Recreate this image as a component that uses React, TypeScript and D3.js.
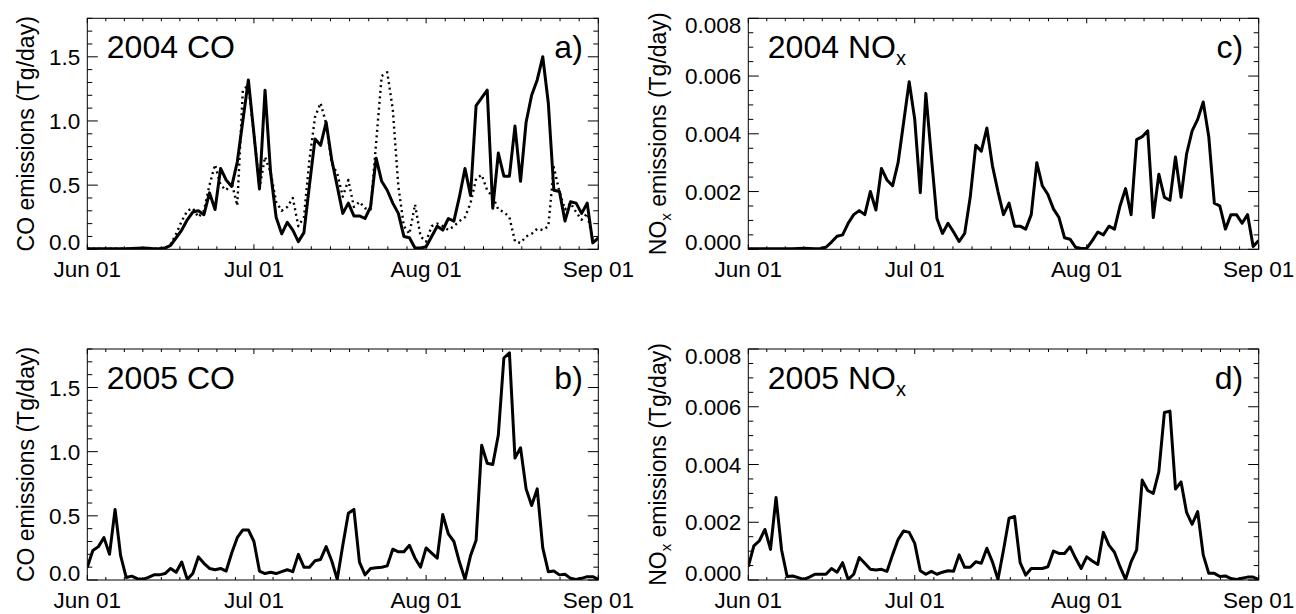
import * as d3 from "d3";
import React from "react";

const FONT = "'Liberation Sans', Arial, Helvetica, sans-serif";

// daily values, Jun 01 .. Sep 01 (93 days)
const co2004 = [
  0.005, 0.005, 0.005, 0.005, 0.005, 0.005, 0.004, 0.004, 0.006, 0.008,
  0.01, 0.008, 0.005, 0.006, 0.01, 0.03, 0.09, 0.15, 0.23, 0.29,
  0.3, 0.27, 0.44, 0.31, 0.63, 0.54, 0.49, 0.68, 1.0, 1.32,
  0.9, 0.47, 1.24, 0.6, 0.25, 0.12, 0.21, 0.15, 0.06, 0.13,
  0.5, 0.86, 0.81, 0.99, 0.7, 0.49, 0.28, 0.36, 0.26, 0.26,
  0.24, 0.33, 0.71, 0.53, 0.46, 0.36, 0.28, 0.1, 0.09, 0.01,
  0.01, 0.02, 0.1, 0.18, 0.15, 0.24, 0.22, 0.41, 0.63, 0.42,
  1.12, 1.18, 1.24, 0.32, 0.75, 0.57, 0.57, 0.96, 0.53, 0.99,
  1.2, 1.32, 1.5, 1.14, 0.46, 0.45, 0.22, 0.37, 0.36, 0.28,
  0.36, 0.05, 0.09,
];

const co2004Dotted = [
  0.005, 0.005, 0.005, 0.005, 0.005, 0.005, 0.005, 0.005, 0.005, 0.005,
  0.005, 0.005, 0.005, 0.006, 0.01, 0.04, 0.12, 0.22, 0.3, 0.32,
  0.25, 0.3, 0.5, 0.66, 0.5, 0.46, 0.52, 0.34, 1.24, 1.28,
  0.9, 0.48, 0.72, 0.6, 0.37, 0.3, 0.33, 0.4, 0.18, 0.25,
  0.7, 1.03, 1.14, 0.98, 0.67, 0.59, 0.41, 0.54, 0.33, 0.37,
  0.32, 0.31, 0.83, 1.35, 1.38, 1.09, 0.49, 0.18, 0.12, 0.35,
  0.1, 0.06, 0.18, 0.2, 0.18, 0.15, 0.18, 0.22, 0.25, 0.36,
  0.55, 0.58, 0.46, 0.41, 0.31, 0.29, 0.25, 0.06, 0.05, 0.1,
  0.12, 0.16, 0.15, 0.18, 0.64, 0.45, 0.31, 0.36, 0.29, 0.23,
  0.28, 0.07, 0.07,
];

const nox2004 = [
  0.00002, 0.00002, 0.00002, 0.00002, 0.00002, 0.00002, 0.00002, 0.00002, 0.00002, 0.00003,
  0.00004, 0.00003, 0.00002, 0.00003, 0.00007, 0.00025, 0.00045, 0.0005, 0.0009, 0.0012,
  0.00134, 0.0012, 0.002, 0.00136, 0.0028, 0.0024, 0.0022, 0.003, 0.0044, 0.0058,
  0.0045, 0.00196, 0.0054, 0.0032, 0.00107, 0.00055, 0.0009, 0.0006, 0.00027, 0.00055,
  0.0018, 0.0036, 0.0034, 0.0042, 0.0029, 0.002, 0.0012, 0.0016, 0.0008, 0.0008,
  0.0007, 0.0012, 0.003, 0.0022, 0.0019, 0.0014, 0.0011, 0.0004, 0.00035, 0.00007,
  0.00003, 0.00003, 0.0003, 0.0006, 0.0005, 0.0008, 0.0007, 0.0015, 0.0021, 0.0012,
  0.0038, 0.0039, 0.0041, 0.0011, 0.0026, 0.0018, 0.0017, 0.0032, 0.0018, 0.0033,
  0.0041, 0.0045, 0.0051, 0.0039, 0.0016, 0.0015, 0.0007, 0.0012, 0.0012, 0.0009,
  0.0012, 0.0001, 0.0003,
];

const co2005 = [
  0.1, 0.23, 0.26, 0.33, 0.2, 0.55, 0.19, 0.02, 0.03, 0.01,
  0.005, 0.02, 0.04, 0.04, 0.05, 0.09, 0.06, 0.14, 0.005, 0.05,
  0.18, 0.13, 0.09, 0.08, 0.09, 0.07, 0.21, 0.33, 0.39, 0.39,
  0.3, 0.07, 0.05, 0.06, 0.05, 0.065, 0.08, 0.065, 0.2, 0.1,
  0.1, 0.15, 0.16, 0.26, 0.15, 0.005, 0.27, 0.52, 0.55, 0.14,
  0.04, 0.09, 0.095, 0.1, 0.11, 0.24, 0.22, 0.22, 0.27, 0.17,
  0.1, 0.25, 0.21, 0.17, 0.51, 0.36, 0.3, 0.14, 0.005, 0.19,
  0.31, 1.05, 0.91, 0.9, 1.13, 1.73, 1.77, 0.95, 1.03, 0.71,
  0.58, 0.71, 0.25, 0.065, 0.07, 0.04, 0.045, 0.013, 0.005, 0.013,
  0.026, 0.026, 0.005,
];

const nox2005 = [
  0.00046, 0.00118, 0.00136, 0.00175, 0.00106, 0.00286, 0.00104, 0.00012, 0.00014, 0.00008,
  0.00002, 0.0001, 0.0002, 0.0002, 0.0002, 0.0004, 0.00027, 0.0006, 0.00002, 0.0002,
  0.00078, 0.00058, 0.00037, 0.00035, 0.00037, 0.0003, 0.00087, 0.0014, 0.0017, 0.00165,
  0.00127, 0.00032, 0.0002, 0.0003, 0.0002, 0.00027, 0.00032, 0.0003, 0.00087, 0.00044,
  0.00044, 0.00063, 0.00058, 0.0011, 0.00063, 0.00002, 0.00104, 0.00214, 0.0022, 0.0006,
  0.00017, 0.0004, 0.0004, 0.0004, 0.00046, 0.001, 0.00092, 0.00092, 0.00115, 0.00075,
  0.0004, 0.0008, 0.00066, 0.00054, 0.00165, 0.00121, 0.00096, 0.00046, 0.00002, 0.00063,
  0.00104, 0.00346, 0.0031, 0.003, 0.00375, 0.0058, 0.00585, 0.00315, 0.0034, 0.00234,
  0.00193, 0.00237, 0.00087, 0.00023, 0.00023, 0.00012, 0.00014, 0.00005, 0.00002, 0.00006,
  0.0001, 0.0001, 0.00002,
];

const monthTicks = [5, 6, 7, 8]; // Jun, Jul, Aug, Sep (0-based months)
const coMax = 1.8;
const noxMax = 0.008;

type Series = { values: number[]; dotted?: boolean };

function Panel({ id, left, top, width, height, year, yMax, yFmt, series, label, sub, letter, yTitle, titleOffset }: any) {
  const right = left + width;
  const bottom = top + height;
  const start = new Date(Date.UTC(year, 5, 1));
  const end = new Date(Date.UTC(year, 8, 1));
  const x = d3.scaleUtc().domain([start, end]).range([left, right]);
  const y = d3.scaleLinear().domain([0, yMax]).range([bottom, top]);

  const majors = monthTicks.map((m) => new Date(Date.UTC(year, m, 1)));
  const minors: Date[] = [];
  for (let i = 0; i < majors.length - 1; i++) {
    const a = +majors[i], b = +majors[i + 1];
    d3.range(1, 9).forEach((k) => minors.push(new Date(a + ((b - a) * k) / 9)));
  }
  const yMajor = y.ticks(4);
  const yMinor = y.ticks(18).filter((v) => !yMajor.some((m) => Math.abs(m - v) < yMax * 1e-6));

  const line = d3
    .line<number>()
    .x((_, i) => x(d3.utcDay.offset(start, i)))
    .y((d) => y(d));

  const fmtDate = d3.utcFormat("%b %d");

  return (
    <g>
      <defs>
        <clipPath id={`clip-${id}`}>
          <rect x={left} y={top} width={width} height={height} />
        </clipPath>
      </defs>
      <g clipPath={`url(#clip-${id})`}>
        {series.map((s: Series, i: number) => (
          <path
            key={i}
            d={line(s.values) || ""}
            fill="none"
            stroke="#000"
            strokeWidth={s.dotted ? 2.4 : 3}
            strokeDasharray={s.dotted ? "2 3.6" : undefined}
            strokeLinejoin="round"
          />
        ))}
      </g>
      <rect x={left} y={top} width={width} height={height} fill="none" stroke="#000" strokeWidth={1} />
      {/* x ticks */}
      {majors.map((d, i) => (
        <g key={`xm${i}`}>
          <line x1={x(d)} x2={x(d)} y1={bottom} y2={bottom - 5} stroke="#000" />
          <line x1={x(d)} x2={x(d)} y1={top} y2={top + 5} stroke="#000" />
          <text x={x(d)} y={bottom + 28} textAnchor="middle" fontSize={22.5} fontFamily={FONT}>
            {fmtDate(d)}
          </text>
        </g>
      ))}
      {minors.map((d, i) => (
        <g key={`xn${i}`}>
          <line x1={x(d)} x2={x(d)} y1={bottom} y2={bottom - 3} stroke="#000" />
          <line x1={x(d)} x2={x(d)} y1={top} y2={top + 3} stroke="#000" />
        </g>
      ))}
      {/* y ticks */}
      {yMajor.map((v, i) => (
        <g key={`ym${i}`}>
          <line x1={left} x2={left + 10.5} y1={y(v)} y2={y(v)} stroke="#000" />
          <line x1={right} x2={right - 10.5} y1={y(v)} y2={y(v)} stroke="#000" />
          <text
            x={left - 7}
            y={Math.max(top + 7, Math.min(bottom - 7, y(v)))}
            dy="0.36em"
            textAnchor="end"
            fontSize={22.5}
            fontFamily={FONT}
          >
            {yFmt(v)}
          </text>
        </g>
      ))}
      {yMinor.map((v, i) => (
        <g key={`yn${i}`}>
          <line x1={left} x2={left + 5} y1={y(v)} y2={y(v)} stroke="#000" />
          <line x1={right} x2={right - 5} y1={y(v)} y2={y(v)} stroke="#000" />
        </g>
      ))}
      <text
        transform={`translate(${left - titleOffset},${(top + bottom) / 2}) rotate(-90)`}
        textAnchor="middle"
        fontSize={23}
        fontFamily={FONT}
      >
        {yTitle}
      </text>
      <text x={left + 19.5} y={top + 39.5} fontSize={32} fontFamily={FONT}>
        {label}
        {sub && (
          <tspan fontSize={20} dy={7}>
            {sub}
          </tspan>
        )}
      </text>
      <text x={right - 15.5} y={top + 39.5} textAnchor="end" fontSize={32} fontFamily={FONT}>
        {letter}
      </text>
    </g>
  );
}

const noxTitle = (
  <>
    NO<tspan fontSize={15} dy={5}>x</tspan>
    <tspan dy={-5}> emissions (Tg/day)</tspan>
  </>
);

export default function App() {
  const W = 511;
  const H = 231;
  const f1 = d3.format(".1f");
  const f3 = d3.format(".3f");
  return (
    <svg width={1296} height={614} style={{ position: "absolute", left: 0, top: 0, background: "#fff" }}>
      <rect width={1296} height={614} fill="#fff" />
      <Panel id="a" left={87.3} top={18.3} width={W} height={H} year={2004} yMax={coMax} yFmt={f1}
        series={[{ values: co2004 }, { values: co2004Dotted, dotted: true }]}
        label="2004 CO" letter="a)" yTitle="CO emissions (Tg/day)" titleOffset={53} />
      <Panel id="c" left={748.3} top={18.3} width={W - 0.6} height={H} year={2004} yMax={noxMax} yFmt={f3}
        series={[{ values: nox2004 }]}
        label="2004 NO" sub="x" letter="c)" yTitle={noxTitle} titleOffset={82} />
      <Panel id="b" left={87.3} top={349} width={W} height={H} year={2005} yMax={coMax} yFmt={f1}
        series={[{ values: co2005 }]}
        label="2005 CO" letter="b)" yTitle="CO emissions (Tg/day)" titleOffset={53} />
      <Panel id="d" left={748.3} top={349} width={W - 0.6} height={H} year={2005} yMax={noxMax} yFmt={f3}
        series={[{ values: nox2005 }]}
        label="2005 NO" sub="x" letter="d)" yTitle={noxTitle} titleOffset={82} />
    </svg>
  );
}
